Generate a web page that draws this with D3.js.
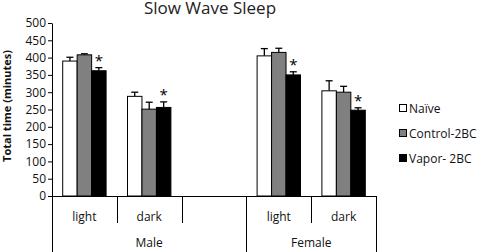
<!DOCTYPE html>
<html><head><meta charset="utf-8">
<script src="https://cdn.jsdelivr.net/npm/d3@7"></script>
<style>body{margin:0;background:#fff}svg{display:block}text{font-family:"Open Sans","Liberation Sans",sans-serif}</style>
</head><body>
<svg id="c" width="480" height="252"></svg>
<script>
// ---- data ----
const sexes = ["Male", "Female"];
const slots = [
  {sex: "Male", period: "light"},
  {sex: "Male", period: "dark"},
  {sex: "Male", period: ""},
  {sex: "Female", period: "light"},
  {sex: "Female", period: "dark"}
];
const series = ["Naïve", "Control-2BC", "Vapor- 2BC"];
const naive   = [390, 288, null, 405, 304];
const naiveErr   = [11, 12, null, 21, 29];
const control = [408, 251, null, 415, 300];
const controlErr = [3, 20, null, 12, 17];
const vapor   = [362, 256, null, 350, 248];
const vaporErr   = [9, 16, null, 9, 7];
const vaporStar  = [true, true, false, true, true];
const yTicks = [0, 50, 100, 150, 200, 250, 300, 350, 400, 450, 500];
const colors = ["#ffffff", "#808080", "#000000"];

const values = [naive, control, vapor];
const errs = [naiveErr, controlErr, vaporErr];

const svg = d3.select("#c");
const mL = 52, mR = 376, mT = 23, mB = 196;

const x = d3.scaleBand().domain(d3.range(slots.length)).range([mL, mR]).padding(0);
const xi = d3.scaleBand().domain(d3.range(series.length)).range([0, x.bandwidth()]).paddingInner(0).paddingOuter(0.74);
const y = d3.scaleLinear().domain([0, 500]).range([mB, mT]);

// title
svg.append("text").attr("x", 210).attr("y", 14).attr("text-anchor", "middle")
  .attr("font-size", 17).attr("fill", "#222").text("Slow Wave Sleep");

// y axis
const ya = svg.append("g").attr("transform", `translate(${mL},0)`)
  .call(d3.axisLeft(y).tickValues(yTicks).tickSize(4).tickSizeOuter(0).tickPadding(2));
ya.select(".domain").attr("stroke", "#000");
ya.selectAll(".tick line").attr("stroke", "#000");
ya.selectAll(".tick text").attr("font-size", 12).attr("fill", "#111")
  .style("font-family", '"Open Sans","Liberation Sans",sans-serif');

svg.append("text").attr("transform", `translate(11,106) rotate(-90)`)
  .attr("text-anchor", "middle").attr("font-size", 11).attr("font-weight", "bold")
  .attr("fill", "#111").text("Total time (minutes)");

// bars
series.forEach((s, si) => {
  slots.forEach((sl, i) => {
    const v = values[si][i];
    if (v == null) return;
    const bx = x(i) + xi(si), bw = xi.bandwidth();
    const e = errs[si][i];
    const cx = bx + bw / 2;
    svg.append("line").attr("x1", cx).attr("x2", cx).attr("y1", y(v)).attr("y2", y(v + e))
      .attr("stroke", "#000").attr("stroke-width", 1.3);
    svg.append("line").attr("x1", cx - 3.5).attr("x2", cx + 3.5).attr("y1", y(v + e)).attr("y2", y(v + e))
      .attr("stroke", "#000").attr("stroke-width", 1.3);
    svg.append("rect").attr("x", bx).attr("y", y(v)).attr("width", bw).attr("height", y(0) - y(v))
      .attr("fill", colors[si]).attr("stroke", "#000").attr("stroke-width", 1);
    if (si === 2 && vaporStar[i]) {
      svg.append("text").attr("x", cx).attr("y", y(v + e) - 2).attr("text-anchor", "middle")
        .attr("font-size", 15).attr("fill", "#000").text("*");
    }
  });
});

// category axis
const g = svg.append("g").attr("stroke", "#000").attr("stroke-width", 1);
g.append("line").attr("x1", mL).attr("x2", mR).attr("y1", mB + 0.5).attr("y2", mB + 0.5);
slots.forEach((sl, i) => {
  const xx = Math.round(x(i)) + 0.5;
  const first = i === 0 || slots[i - 1].sex !== sl.sex;
  g.append("line").attr("x1", xx).attr("x2", xx).attr("y1", mB).attr("y2", first ? 252 : 223);
});
g.append("line").attr("x1", mR + 0.5).attr("x2", mR + 0.5).attr("y1", mB).attr("y2", 252);

slots.forEach((sl, i) => {
  if (!sl.period) return;
  svg.append("text").attr("x", x(i) + x.bandwidth() / 2).attr("y", 221).attr("text-anchor", "middle")
    .attr("font-size", 12).attr("fill", "#111").text(sl.period);
});
sexes.forEach(sx => {
  const idx = slots.map((s, i) => s.sex === sx ? i : -1).filter(i => i >= 0);
  const x0 = x(idx[0]), x1 = x(idx[idx.length - 1]) + x.bandwidth();
  svg.append("text").attr("x", (x0 + x1) / 2).attr("y", 247).attr("text-anchor", "middle")
    .attr("font-size", 12).attr("fill", "#111").text(sx);
});

// legend
const lg = svg.append("g");
series.forEach((s, si) => {
  const ly = 108 + si * 25;
  lg.append("rect").attr("x", 399.5).attr("y", ly - 3.5).attr("width", 7).attr("height", 7)
    .attr("fill", colors[si]).attr("stroke", "#000").attr("stroke-width", 1);
  lg.append("text").attr("x", 409).attr("y", ly + 4.5).attr("font-size", 12).attr("fill", "#111").text(s);
});
</script>
</body></html>
